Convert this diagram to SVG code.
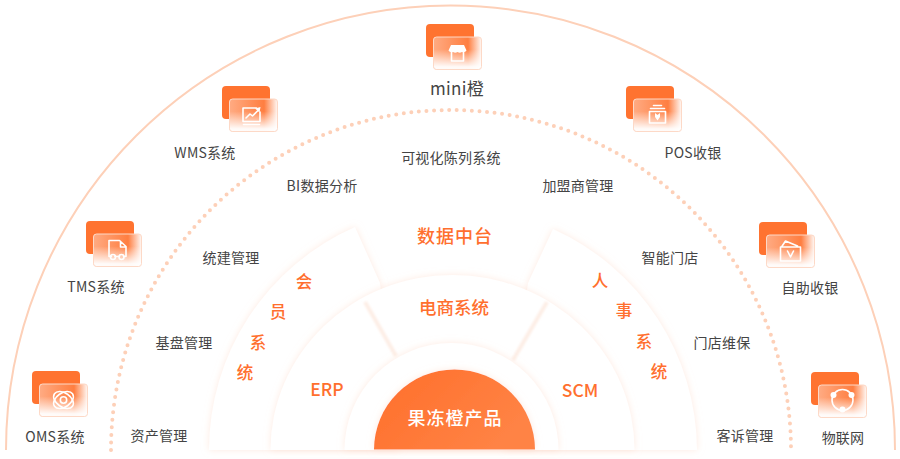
<svg xmlns="http://www.w3.org/2000/svg" width="900" height="459" viewBox="0 0 900 459">
<style>
text{font-family:"Noto Sans CJK SC","Noto Sans",sans-serif;text-anchor:middle}
.l{font-size:14px;fill:#444;letter-spacing:.25px}
.o{font-size:16.500px;fill:#ff6f2e;font-weight:500}
.oo{font-size:17.500px}
.sec{fill:#fff;filter:url(#soft)}
.div{fill:none;stroke:#fdeee6;stroke-width:4;filter:url(#b1)}
.ic{fill:none;stroke:#fff;stroke-width:1.600;stroke-linecap:round;stroke-linejoin:round}
.icf{fill:#fff}
</style>
<defs>
<linearGradient id="core" x1="0" y1="0" x2="1" y2="0.5"><stop offset="0" stop-color="#ff6e2a"/><stop offset="1" stop-color="#ff8345"/></linearGradient>
<linearGradient id="wash" x1="0" y1="0" x2="1" y2="0"><stop offset="0" stop-color="#ff7330" stop-opacity=".6"/><stop offset=".72" stop-color="#ff7330" stop-opacity=".92"/><stop offset="1" stop-color="#ff7330" stop-opacity=".05"/></linearGradient>
<linearGradient id="fade" x1="0" y1="0" x2="0" y2="1"><stop offset="0.38" stop-color="#fff" stop-opacity="0"/><stop offset=".92" stop-color="#fff" stop-opacity=".96"/></linearGradient>
<filter id="soft" x="-15%" y="-15%" width="130%" height="130%"><feDropShadow dx="0" dy="0" stdDeviation="3.500" flood-color="#fcd9c8" flood-opacity=".55"/></filter>
<filter id="b1" x="-20%" y="-20%" width="140%" height="140%"><feGaussianBlur stdDeviation="1"/></filter>
<g id="card">
<rect width="48" height="33" rx="4" fill="#ff7330"/>
<rect x="7.500" y="13" width="48" height="32.500" rx="3" fill="#fff"/>
<rect x="7.500" y="13" width="48" height="32.500" rx="3" fill="url(#wash)"/>
<rect x="7.500" y="13" width="48" height="32.500" rx="3" fill="url(#fade)"/>
<rect x="7.500" y="13" width="48" height="32.500" rx="3" fill="none" stroke="#fdd9c7" stroke-width="1"/>
</g>
</defs>
<rect width="900" height="459" fill="#fff"/>
<g id="rings">
<path d="M6 450A444.500 444.500 0 0 1 895 450" fill="none" stroke="#fdd0b8" stroke-width="2"/>
<path d="M111 450A340 340 0 0 1 791 450" fill="none" stroke="#fdd0b8" stroke-width="4" stroke-linecap="round" stroke-dasharray="0 7.600"/>
<path class="sec" d="M209 450A244 244 0 0 1 355 227L380 283L400 450Z"/>
<path class="sec" d="M697 450A244 244 0 0 0 553 229L528 283L505 450Z"/>
<path class="sec" d="M270.500 450A182 175 0 0 1 634.500 450Z"/>
<path class="div" d="M365 302L396 356M547 302L513 360"/>
<path class="sec" d="M344.500 450A107 107 0 0 1 558.500 450Z"/>
</g>
<g id="core-node">
<path d="M374 449.500A80.500 80 0 0 1 535 449.500Z" fill="url(#core)" filter="url(#soft)"/>
<text x="455" y="424.500" style="font-size:18px;letter-spacing:1px;fill:#fff;font-weight:500">果冻橙产品</text>
</g>
<g id="inner-labels">
<text class="o" x="455" y="242.500" style="font-size:18px;letter-spacing:1px">数据中台</text>
<text class="o oo" x="454" y="314">电商系统</text>
<text class="o oo" x="327" y="396">ERP</text>
<text class="o oo" x="580" y="397">SCM</text>
<text class="o" x="304" y="288">会</text><text class="o" x="278" y="318">员</text><text class="o" x="258" y="349">系</text><text class="o" x="245" y="379">统</text>
<text class="o" x="600" y="287">人</text><text class="o" x="624" y="317">事</text><text class="o" x="644" y="348">系</text><text class="o" x="659" y="378">统</text>
</g>
<g id="middle-labels">
<text class="l" x="451" y="163">可视化陈列系统</text>
<text class="l" x="322" y="191">BI数据分析</text>
<text class="l" x="578" y="191">加盟商管理</text>
<text class="l" x="231" y="263">统建管理</text>
<text class="l" x="670" y="263">智能门店</text>
<text class="l" x="184" y="348">基盘管理</text>
<text class="l" x="722" y="348">门店维保</text>
<text class="l" x="159" y="441">资产管理</text>
<text class="l" x="745" y="441">客诉管理</text>
</g>
<g id="mini">
<use href="#card" x="426" y="24"/>
<g transform="translate(457.500 53)"><path class="icf" d="M-6.500-8H6.500L9-2.500Q7.500 0 4.500-1Q2.300 .5 0-1Q-2.300 .5-4.500-1Q-7.500 0-9-2.500Z"/><path class="ic" d="M-6-1V8H6V-1"/></g>
<text x="457" y="95" style="font-size:17px;fill:#444;letter-spacing:.3px">mini橙</text>
</g>
<g id="wms">
<use href="#card" x="222" y="86"/>
<g transform="translate(251.500 115)"><path class="ic" d="M5-7H-8.500V6.500H8.500V-3M-5.500 3L-1.500-1L1 1L7-5M-8 9.500H8"/><path class="icf" d="M3.500-6.500L9-8L8-2.500Z"/></g>
<text class="l" x="205" y="158">WMS系统</text>
</g>
<g id="pos">
<use href="#card" x="626" y="86"/>
<g transform="translate(657.500 115)"><path class="ic" d="M-4-9.500H4M-7-6.500H7M-8-3.500H8V8H-8Z"/><path class="icf" d="M-2.500-2L0 0L2.500-2V2L0 5.500L-2.500 2Z"/></g>
<text class="l" x="693" y="158">POS收银</text>
</g>
<g id="tms">
<use href="#card" x="86" y="221"/>
<g transform="translate(117.500 250)"><path class="ic" d="M-6 6.500H-8.500V-9.500H2L8.500-3.500V6.500H6M-2.500 6.500H2M3-8.500V-3H8"/><circle class="ic" cx="-4.500" cy="7" r="2.500"/><circle class="ic" cx="4" cy="7" r="2.500"/></g>
<text class="l" x="96" y="292">TMS系统</text>
</g>
<g id="self-pay">
<use href="#card" x="759" y="222"/>
<g transform="translate(790.500 251)"><path class="ic" d="M-10-4H10V10H-10ZM-9-4L-5-10L7-5M-3 0L0 6L3 0"/></g>
<text class="l" x="810" y="293">自助收银</text>
</g>
<g id="oms">
<use href="#card" x="32" y="371"/>
<g transform="translate(63.500 400)"><circle class="ic" r="3.200"/><ellipse class="ic" rx="11" ry="7" transform="rotate(35)"/><ellipse class="ic" rx="11" ry="7" transform="rotate(-35)"/></g>
<text class="l" x="55" y="442">OMS系统</text>
</g>
<g id="iot">
<use href="#card" x="811" y="372"/>
<g transform="translate(842.500 399)"><circle class="ic" cy="1" r="10.500"/><circle class="icf" cx="-9" cy="-4" r="3"/><circle class="icf" cx="9" cy="-4" r="3"/><circle class="icf" cy="10.500" r="3"/></g>
<text class="l" x="843" y="443">物联网</text>
</g>
</svg>
